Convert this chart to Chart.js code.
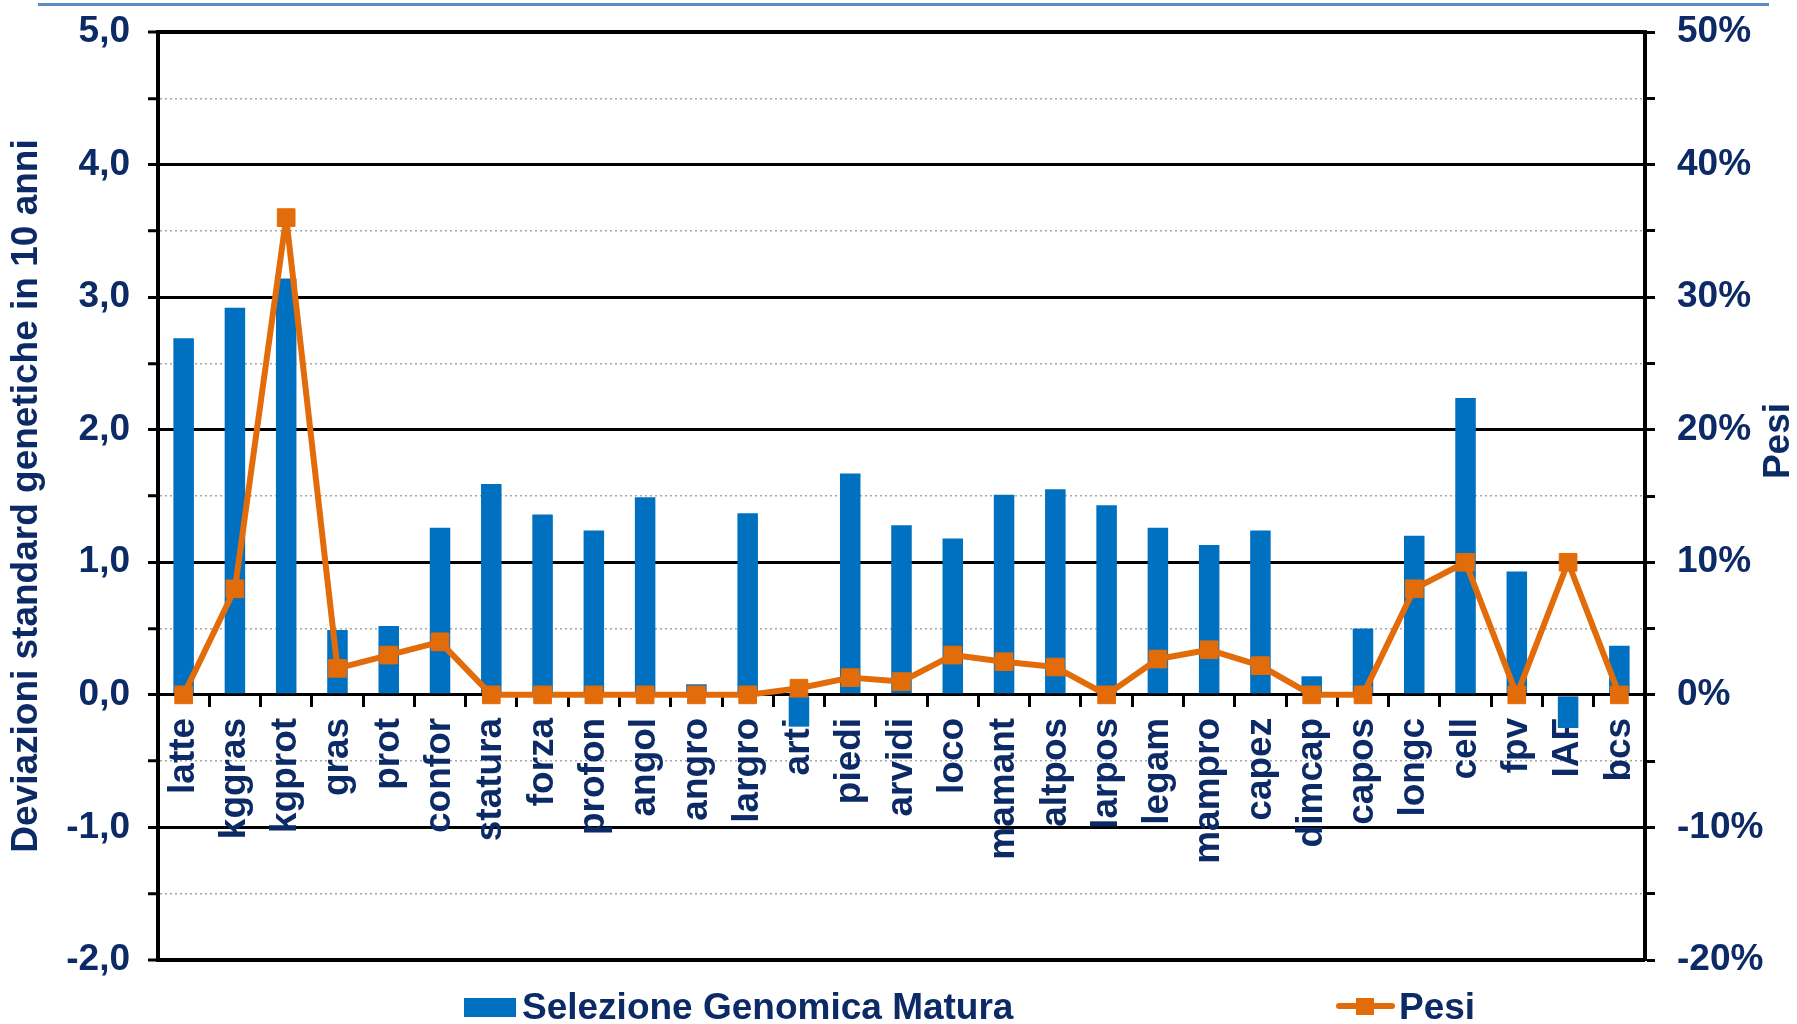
<!DOCTYPE html>
<html lang="it">
<head>
<meta charset="utf-8">
<title>Selezione Genomica Matura - Pesi</title>
<script src="https://cdn.jsdelivr.net/npm/chart.js@4.4.1/dist/chart.umd.min.js"></script>
<style>
  html, body { margin: 0; padding: 0; background: #fff; }
  #wrap { position: relative; width: 1797px; height: 1024px; }
  #topline { position: absolute; left: 38px; top: 3px; width: 1731px; height: 3px; background: #5b8cc8; }
</style>
</head>
<body>
<div id="wrap">
  <div id="topline"></div>
  <canvas id="chartPesi" width="1797" height="1024"></canvas>
</div>
<script>
// caratteri
const categorie = ['latte', 'kggras', 'kgprot', 'gras', 'prot', 'confor', 'statura', 'forza', 'profon', 'angol',
  'angro', 'largro', 'arti', 'piedi', 'arvidi', 'loco', 'mamant', 'altpos', 'larpos', 'legam',
  'mampro', 'capez', 'dimcap', 'capos', 'longc', 'cell', 'fpv', 'IAF', 'bcs'];

// deviazioni standard genetiche in 10 anni
const selezioneGenomica = [2.69, 2.92, 3.14, 0.49, 0.52, 1.26, 1.59, 1.36, 1.24, 1.49,
  0.08, 1.37, -0.24, 1.67, 1.28, 1.18, 1.51, 1.55, 1.43, 1.26,
  1.13, 1.24, 0.14, 0.50, 1.20, 2.24, 0.93, -0.25, 0.37];

// pesi (%)
const pesi = [0, 8, 36, 2, 3, 4, 0, 0, 0, 0,
  0, 0, 0.5, 1.3, 1.0, 3.0, 2.5, 2.1, 0, 2.7,
  3.4, 2.2, 0, 0, 8, 10, 0, 10, 0];

const nomeBarre = 'Selezione Genomica Matura';
const nomeLinea = 'Pesi';
const titoloSinistra = 'Deviazioni standard genetiche in 10 anni';
const titoloDestra = 'Pesi';

const coloreTesto = '#0b2a66';
const coloreBarre = '#0070c0';
const coloreLinea = '#e36c0a';
const fontBase = '"Liberation Sans", Arial, sans-serif';

// legenda in basso e titolo asse destro (letto dal basso verso l'alto)
const legendaPlugin = {
    id: 'legenda',
    afterDraw(chart) {
        const ctx = chart.ctx;
        const dsBar = chart.data.datasets[0];
        const dsLine = chart.data.datasets[1];
        ctx.save();
        ctx.font = 'bold 37px ' + fontBase;
        ctx.textBaseline = 'middle';
        ctx.textAlign = 'left';

        ctx.fillStyle = dsBar.backgroundColor;
        ctx.fillRect(464, 998, 52, 19);
        ctx.fillStyle = coloreTesto;
        ctx.fillText(dsBar.label, 522, 1009);

        ctx.strokeStyle = dsLine.borderColor;
        ctx.lineWidth = 6;
        ctx.lineCap = 'round';
        ctx.beginPath();
        ctx.moveTo(1339, 1006);
        ctx.lineTo(1392, 1006);
        ctx.stroke();
        ctx.fillStyle = dsLine.borderColor;
        ctx.fillRect(1356, 998, 18, 17);
        ctx.fillStyle = coloreTesto;
        ctx.fillText(dsLine.label, 1399, 1009);

        ctx.translate(1779, 441);
        ctx.rotate(-Math.PI / 2);
        ctx.textAlign = 'center';
        ctx.fillText(titoloDestra, 0, 0);
        ctx.restore();
    }
};

const isIntero = v => Math.abs(v - Math.round(v)) < 1e-6;

// larghezza fissa degli assi verticali, senza margini extra sopra/sotto
const fissaAsse = larghezza => s => {
    s.width = larghezza;
    s.paddingTop = 0;
    s.paddingBottom = 0;
};

const ctxChart = document.getElementById('chartPesi');
new Chart(ctxChart, {
    type: 'bar',
    data: {
        labels: categorie,
        datasets: [{
            label: nomeBarre,
            data: selezioneGenomica,
            backgroundColor: coloreBarre,
            borderWidth: 0,
            barPercentage: 0.4,
            categoryPercentage: 1,
            yAxisID: 'y',
            order: 2
        }, {
            type: 'line',
            label: nomeLinea,
            data: pesi,
            borderColor: coloreLinea,
            backgroundColor: coloreLinea,
            borderWidth: 6,
            borderJoinStyle: 'round',
            pointStyle: 'rect',
            pointRadius: 12.5,
            pointBorderWidth: 1,
            pointBackgroundColor: coloreLinea,
            pointBorderColor: coloreLinea,
            tension: 0,
            yAxisID: 'y1',
            order: 1
        }]
    },
    options: {
        responsive: false,
        animation: false,
        layout: { padding: { top: 32, bottom: 64, left: 0, right: 0 } },
        plugins: {
            legend: { display: false },
            tooltip: { enabled: false }
        },
        scales: {
            x: {
                position: { y: 0 },
                grid: {
                    drawOnChartArea: false,
                    color: '#000',
                    lineWidth: 3,
                    tickLength: 11
                },
                border: { display: true, color: '#000', width: 3 },
                ticks: {
                    autoSkip: false,
                    maxRotation: 90,
                    minRotation: 90,
                    padding: 12,
                    color: coloreTesto,
                    font: { family: fontBase, size: 37, weight: 'bold' }
                }
            },
            y: {
                position: 'left',
                min: -2,
                max: 5,
                afterFit: fissaAsse(158),
                ticks: {
                    stepSize: 0.5,
                    padding: 18,
                    color: coloreTesto,
                    font: { family: fontBase, size: 37, weight: 'bold' },
                    callback: v => isIntero(v) ? v.toFixed(1).replace('.', ',') : ''
                },
                grid: {
                    color: c => isIntero(c.tick.value) ? '#000' : '#a6a6a6',
                    lineWidth: c => {
                        const v = c.tick.value;
                        if (v === 5 || v === -2) return 4;
                        return isIntero(v) ? 3 : 1.5;
                    },
                    tickColor: '#000',
                    tickWidth: 3,
                    tickLength: 10
                },
                border: {
                    display: true,
                    color: '#000',
                    width: 4,
                    dash: c => (c.tick && !isIntero(c.tick.value)) ? [2, 3] : []
                },
                title: {
                    display: true,
                    text: titoloSinistra,
                    color: coloreTesto,
                    font: { family: fontBase, size: 37, weight: 'bold' },
                    padding: { top: 5, bottom: 0 }
                }
            },
            y1: {
                position: 'right',
                min: -20,
                max: 50,
                afterFit: fissaAsse(152),
                ticks: {
                    stepSize: 5,
                    padding: 22,
                    color: coloreTesto,
                    font: { family: fontBase, size: 37, weight: 'bold' },
                    callback: v => (Math.abs(v % 10) < 1e-6) ? Math.round(v) + '%' : ''
                },
                grid: {
                    drawOnChartArea: false,
                    tickColor: '#000',
                    tickWidth: 3,
                    tickLength: 10
                },
                border: { display: true, color: '#000', width: 4 }
            }
        }
    },
    plugins: [legendaPlugin]
});
</script>
</body>
</html>
